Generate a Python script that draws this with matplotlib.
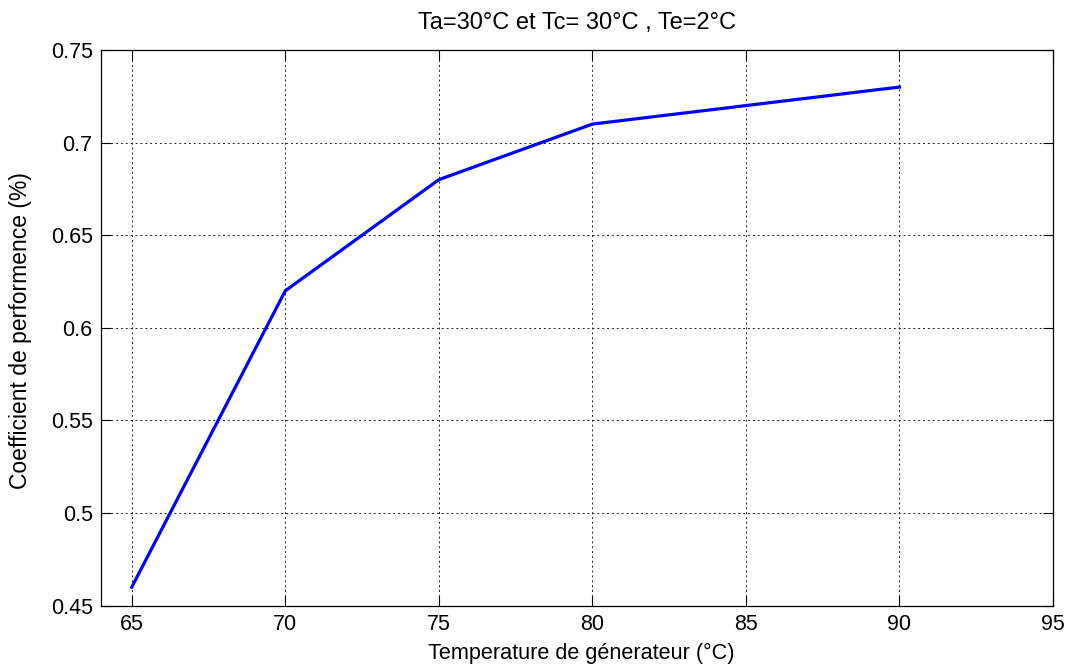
import matplotlib
matplotlib.use("Agg")
import matplotlib.pyplot as plt

# generator temperature (°C) vs coefficient of performance
temp_gen = [65, 70, 75, 80, 85, 90]
cop = [0.46, 0.62, 0.68, 0.71, 0.72, 0.73]

x_ticks = [65, 70, 75, 80, 85, 90, 95]
y_ticks = [0.45, 0.5, 0.55, 0.6, 0.65, 0.7, 0.75]
y_tick_labels = ["0.45", "0.5", "0.55", "0.6", "0.65", "0.7", "0.75"]

plt.rcParams["font.family"] = ["Liberation Sans", "DejaVu Sans"]

W, H = 1069, 664
fig = plt.figure(figsize=(W / 100, H / 100), dpi=100)
ax = fig.add_axes([101 / W, 1 - 605.7 / H, (1053 - 101) / W, (605.7 - 50) / H])

ax.plot(temp_gen, cop, color="#0000ff", lw=2.3, solid_joinstyle="miter", zorder=3)

ax.set_xlim(64, 95)
ax.set_ylim(0.45, 0.75)
ax.set_xticks(x_ticks)
ax.set_yticks(y_ticks)
ax.set_yticklabels(y_tick_labels)
ax.grid(True, color="#222222", linestyle=(0, (2, 3)), linewidth=0.7)
ax.tick_params(direction="in", length=7, width=0.8, top=True, right=True,
               labelsize=15.5, pad=6, colors="black")
for s in ax.spines.values():
    s.set_linewidth(0.9)

fig.text(577 / W, 1 - 23 / H, "Ta=30°C et Tc= 30°C , Te=2°C",
         ha="center", va="center", fontsize=17)
fig.text(581 / W, 1 - 659 / H, "Temperature de génerateur (°C)",
         ha="center", va="baseline", fontsize=15.6)
fig.text(21 / W, 1 - 331 / H, "Coefficient de performence (%)",
         ha="center", va="center", rotation=90, fontsize=16.5)

fig.savefig("out.png", dpi=100)
